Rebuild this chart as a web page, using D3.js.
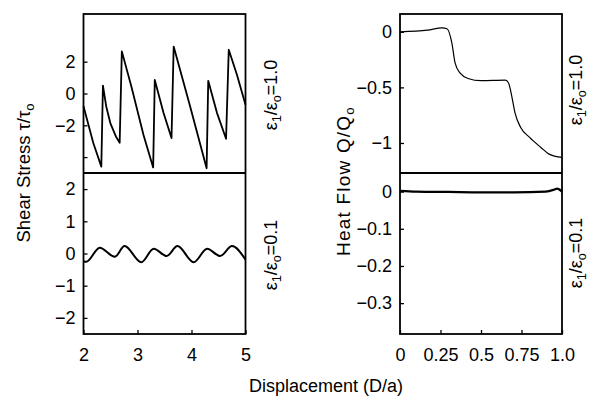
<!DOCTYPE html>
<html>
<head>
<meta charset="utf-8">
<script src="https://cdn.jsdelivr.net/npm/d3@7"></script>
<style>
  body { margin: 0; background: #fff; }
  svg { display: block; font-family: "Liberation Sans", Arial, sans-serif; }
</style>
</head>
<body>
<div id="chart"></div>
<script>
//shear stress, eps1/eps0 = 1.0 (stick-slip)
var stressX1 = [2.00, 2.18, 2.33, 2.36, 2.42, 2.50, 2.60, 2.67, 2.71, 2.89, 3.11, 3.29, 3.32, 3.48, 3.63, 3.67, 3.97, 4.28, 4.31, 4.47, 4.64, 4.69, 4.84, 5.00];
var stressY1 = [-0.8, -3.1, -4.6, 0.5, -0.8, -1.9, -2.7, -3.1, 2.65, 0.4, -2.6, -4.65, 0.85, -1.2, -2.8, 2.95, -0.75, -4.7, 0.8, -1.2, -2.85, 2.75, 1.2, -0.7];

//shear stress, eps1/eps0 = 0.1 (smooth)
var stressX2 = [2.00, 2.05, 2.30, 2.58, 2.76, 3.07, 3.30, 3.54, 3.74, 4.04, 4.29, 4.53, 4.75, 5.00];
var stressY2 = [-0.24, -0.26, 0.18, -0.10, 0.23, -0.27, 0.15, -0.08, 0.23, -0.27, 0.15, -0.08, 0.23, -0.19];

//heat flow, eps1/eps0 = 1.0
var heatX1 = [0.00, 0.17, 0.26, 0.29, 0.32, 0.34, 0.37, 0.42, 0.50, 0.65, 0.67, 0.69, 0.71, 0.745, 0.80, 0.87, 0.92, 1.00];
var heatY1 = [0.00, 0.015, 0.035, 0.027, -0.10, -0.28, -0.37, -0.42, -0.44, -0.435, -0.46, -0.58, -0.73, -0.86, -0.95, -1.04, -1.10, -1.13];

//heat flow, eps1/eps0 = 0.1
var heatX2 = [0.00, 0.10, 0.30, 0.50, 0.70, 0.90, 0.95, 0.97, 1.00];
var heatY2 = [0.002, 0.000, -0.001, -0.002, -0.002, 0.000, 0.005, 0.008, 0.000];

//tick values
var xTicksLeft = [2, 3, 4, 5];
var xTicksRight = [0, 0.25, 0.5, 0.75, 1.0];
var xLabelsRight = ["0", "0.25", "0.5", "0.75", "1.0"];
var yTicksStress1 = [-4, -2, 0, 2];
var yTicksStress2 = [-2, -1, 0, 1, 2];
var yTicksHeat1 = [-1, -0.5, 0];
var yTicksHeat2 = [-0.3, -0.2, -0.1, 0];

var svgWidth = 589;
var svgHeight = 403;

var svg = d3.select("#chart")
  .append("svg")
  .attr("width", svgWidth)
  .attr("height", svgHeight);

//panel geometry
var topY = 14, midY = 173, botY = 334;
var leftX0 = 83.5, leftX1 = 245.5;
var rightX0 = 400, rightX1 = 562;

var xLeft = d3.scaleLinear().domain([2, 5]).range([leftX0, leftX1]);
var xRight = d3.scaleLinear().domain([0, 1]).range([rightX0, rightX1]);
var yStress1 = d3.scaleLinear().domain([-5, 5]).range([midY, topY]);
var yStress2 = d3.scaleLinear().domain([-2.5, 2.5]).range([botY, midY]);
var yHeat1 = d3.scaleLinear().domain([-1.27, 0.16]).range([midY, topY]);
var yHeat2 = d3.scaleLinear().domain([-0.383, 0.05]).range([botY, midY]);

var minus = s => s.replace("-", "\u2212");

function yAxis(scale, x, ticks, fmt) {
  var g = svg.append("g")
    .attr("transform", `translate(${x},0)`)
    .call(d3.axisLeft(scale).tickValues(ticks).tickSize(-4).tickPadding(8).tickFormat(fmt));
  g.select(".domain").remove();
  g.selectAll(".tick line").attr("stroke", "#000").attr("stroke-width", 1.3);
  g.selectAll(".tick text").attr("font-size", 18).attr("fill", "#000");
  return g;
}

function xAxis(scale, y, ticks, fmt) {
  var g = svg.append("g")
    .attr("transform", `translate(0,${y})`)
    .call(d3.axisBottom(scale).tickValues(ticks).tickSize(-4).tickPadding(14).tickFormat(fmt));
  g.select(".domain").remove();
  g.selectAll(".tick line").attr("stroke", "#000").attr("stroke-width", 1.3);
  g.selectAll(".tick text").attr("font-size", 18).attr("fill", "#000").attr("dy", "0.71em");
  return g;
}

yAxis(yStress1, leftX0, yTicksStress1, d => d === -4 ? "" : minus(String(d)));
yAxis(yStress2, leftX0, yTicksStress2, d => minus(String(d)));
yAxis(yHeat1, rightX0, yTicksHeat1, d => minus(String(d)));
yAxis(yHeat2, rightX0, yTicksHeat2, d => minus(String(d)));
xAxis(xLeft, botY, xTicksLeft, d => String(d));
xAxis(xRight, botY, xTicksRight, (d, i) => xLabelsRight[i]);

//curves
function drawLine(xs, ys, xscale, yscale, width, curve) {
  var pts = xs.map((x, i) => [x, ys[i]]);
  var line = d3.line()
    .x(d => xscale(d[0]))
    .y(d => yscale(d[1]))
    .curve(curve);
  svg.append("path")
    .attr("d", line(pts))
    .attr("fill", "none")
    .attr("stroke", "#000")
    .attr("stroke-width", width)
    .attr("stroke-linejoin", "round");
}

drawLine(stressX1, stressY1, xLeft, yStress1, 1.8, d3.curveLinear);
drawLine(stressX2, stressY2, xLeft, yStress2, 2, d3.curveMonotoneX);
drawLine(heatX1, heatY1, xRight, yHeat1, 1.2, d3.curveMonotoneX);
drawLine(heatX2, heatY2, xRight, yHeat2, 2.2, d3.curveMonotoneX);

//frames
[[leftX0, leftX1], [rightX0, rightX1]].forEach(p => {
  svg.append("rect")
    .attr("x", p[0]).attr("y", topY)
    .attr("width", p[1] - p[0]).attr("height", botY - topY)
    .attr("fill", "none").attr("stroke", "#000").attr("stroke-width", 1.8);
  svg.append("line")
    .attr("x1", p[0]).attr("x2", p[1])
    .attr("y1", midY).attr("y2", midY)
    .attr("stroke", "#000").attr("stroke-width", 1.8);
});

//rotated labels with subscripts
function rotLabel(x, y, parts, size, spacing) {
  var t = svg.append("text")
    .attr("transform", `translate(${x},${y}) rotate(-90)`)
    .attr("text-anchor", "middle")
    .attr("font-size", size)
    .attr("letter-spacing", spacing || 0)
    .attr("fill", "#000");
  parts.forEach(p => {
    if (p.sub) {
      t.append("tspan").attr("font-size", size * 0.7).attr("dy", 4).text(p.t);
    } else {
      t.append("tspan").attr("dy", p.after ? -4 : 0).text(p.t);
    }
  });
}

rotLabel(30, 173, [{t: "Shear Stress \u03c4/\u03c4"}, {t: "o", sub: true}], 18.5);
rotLabel(350, 181, [{t: "Heat Flow Q/Q"}, {t: "o", sub: true}], 19, 1.2);

var eps10 = [{t: "\u03b5"}, {t: "1", sub: true}, {t: "/\u03b5", after: true}, {t: "o", sub: true}, {t: "=1.0", after: true}];
var eps01 = [{t: "\u03b5"}, {t: "1", sub: true}, {t: "/\u03b5", after: true}, {t: "o", sub: true}, {t: "=0.1", after: true}];
rotLabel(277, 95, eps10, 18);
rotLabel(277, 255, eps01, 18);
rotLabel(582, 90, eps10, 18);
rotLabel(582, 253, eps01, 18);

svg.append("text")
  .attr("x", 326)
  .attr("y", 392)
  .attr("text-anchor", "middle")
  .attr("font-size", 18)
  .attr("fill", "#000")
  .text("Displacement (D/a)");
</script>
</body>
</html>
